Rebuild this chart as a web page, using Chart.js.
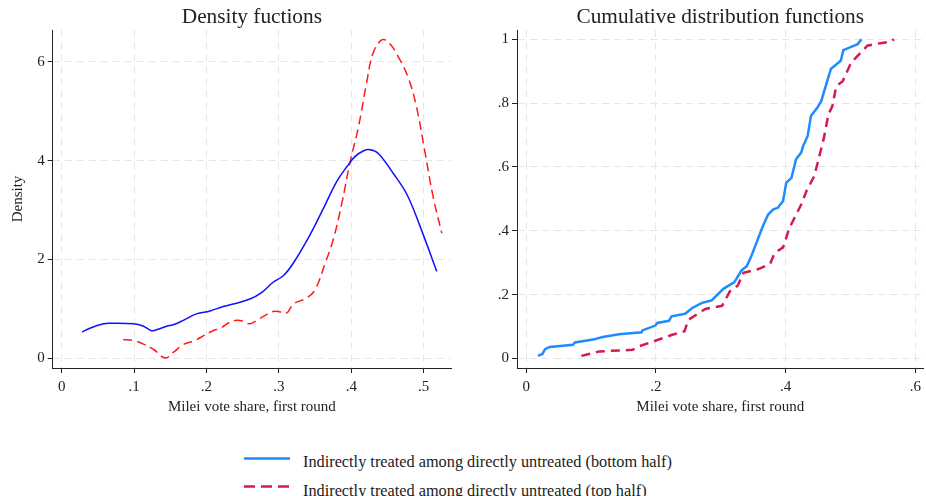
<!DOCTYPE html>
<html>
<head>
<meta charset="utf-8">
<script src="https://cdn.jsdelivr.net/npm/chart.js@4.4.1/dist/chart.umd.min.js"></script>
<style>
  body { margin: 0; background: #fff; width: 926px; height: 496px; overflow: hidden; position: relative; font-family: 'Liberation Serif', 'Times New Roman', serif; }
  #left { position: absolute; left: 0; top: 0; width: 460px; height: 420px; }
  #right { position: absolute; left: 460px; top: 0; width: 466px; height: 420px; }
  .leg { position: absolute; left: 244px; font-size: 16.3px; color: #222; }
  .leg svg { position: absolute; left: 0; top: 0; }
  .leg span { position: absolute; left: 59px; white-space: nowrap; }
</style>
</head>
<body>
<div id="left"><canvas id="densChart"></canvas></div>
<div id="right"><canvas id="cdfChart"></canvas></div>
<div class="leg" style="top:450px"><svg width="48" height="18"><line x1="0" y1="8.5" x2="46" y2="8.5" stroke="#1e8cff" stroke-width="2.5"/></svg><span style="top:2px">Indirectly treated among directly untreated (bottom half)</span></div>
<div class="leg" style="top:478px"><svg width="48" height="18"><line x1="0" y1="8.5" x2="46" y2="8.5" stroke="#d61a4f" stroke-width="2.5" stroke-dasharray="11,6"/></svg><span style="top:3px">Indirectly treated among directly untreated (top half)</span></div>
<script>
// density, bottom half (blue)
const densBottomX = [0.028, 0.039, 0.058, 0.067, 0.099, 0.113, 0.124, 0.131, 0.145, 0.154, 0.168, 0.186, 0.205, 0.223, 0.237, 0.26, 0.276, 0.292, 0.306, 0.32, 0.343, 0.361, 0.38, 0.394, 0.405, 0.417, 0.426, 0.437, 0.458, 0.477, 0.495, 0.518];
const densBottomY = [0.53, 0.61, 0.70, 0.71, 0.70, 0.65, 0.56, 0.58, 0.65, 0.68, 0.77, 0.90, 0.96, 1.05, 1.10, 1.20, 1.33, 1.54, 1.67, 1.93, 2.50, 3.02, 3.58, 3.88, 4.08, 4.20, 4.22, 4.15, 3.74, 3.31, 2.67, 1.76];
// density, top half (red dashed)
const densTopX = [0.085, 0.099, 0.113, 0.127, 0.143, 0.154, 0.168, 0.184, 0.196, 0.209, 0.219, 0.232, 0.242, 0.251, 0.26, 0.274, 0.292, 0.302, 0.311, 0.32, 0.338, 0.35, 0.364, 0.375, 0.387, 0.398, 0.41, 0.421, 0.43, 0.442, 0.451, 0.465, 0.479, 0.49, 0.502, 0.513, 0.525];
const densTopY = [0.38, 0.36, 0.29, 0.18, 0.01, 0.12, 0.28, 0.36, 0.46, 0.56, 0.61, 0.73, 0.77, 0.75, 0.70, 0.81, 0.95, 0.94, 0.92, 1.10, 1.22, 1.39, 1.93, 2.40, 3.14, 3.95, 4.69, 5.56, 6.17, 6.44, 6.40, 6.10, 5.66, 5.09, 4.15, 3.27, 2.53];
// cdf, bottom half (blue)
const cdfBottomX = [0.018, 0.025, 0.029, 0.036, 0.072, 0.075, 0.103, 0.118, 0.143, 0.178, 0.179, 0.199, 0.202, 0.22, 0.224, 0.245, 0.256, 0.271, 0.286, 0.304, 0.321, 0.332, 0.34, 0.347, 0.353, 0.365, 0.373, 0.381, 0.388, 0.396, 0.401, 0.409, 0.416, 0.424, 0.427, 0.434, 0.439, 0.449, 0.455, 0.465, 0.47, 0.485, 0.489, 0.511, 0.517];
const cdfBottomY = [0.008, 0.014, 0.029, 0.036, 0.043, 0.05, 0.059, 0.067, 0.076, 0.082, 0.088, 0.103, 0.111, 0.118, 0.132, 0.14, 0.158, 0.174, 0.182, 0.218, 0.239, 0.276, 0.289, 0.32, 0.352, 0.415, 0.451, 0.467, 0.472, 0.493, 0.551, 0.566, 0.624, 0.645, 0.666, 0.697, 0.76, 0.786, 0.807, 0.875, 0.908, 0.933, 0.966, 0.985, 1.0];
// cdf, top half (red dashed)
const cdfTopX = [0.085, 0.113, 0.164, 0.174, 0.2, 0.225, 0.244, 0.25, 0.276, 0.302, 0.314, 0.326, 0.335, 0.358, 0.376, 0.383, 0.396, 0.405, 0.411, 0.424, 0.432, 0.444, 0.45, 0.459, 0.466, 0.472, 0.478, 0.488, 0.501, 0.511, 0.526, 0.546, 0.562, 0.567];
const cdfTopY = [0.008, 0.022, 0.027, 0.038, 0.056, 0.074, 0.085, 0.121, 0.155, 0.165, 0.21, 0.228, 0.268, 0.28, 0.296, 0.33, 0.348, 0.404, 0.43, 0.482, 0.524, 0.571, 0.618, 0.691, 0.765, 0.79, 0.853, 0.869, 0.927, 0.948, 0.98, 0.988, 0.992, 1.0];

const xTicksL = [0, 0.1, 0.2, 0.3, 0.4, 0.5];
const xLabelsL = ['0', '.1', '.2', '.3', '.4', '.5'];
const yTicksL = [0, 2, 4, 6];
const yLabelsL = ['0', '2', '4', '6'];
const xTicksR = [0, 0.2, 0.4, 0.6];
const xLabelsR = ['0', '.2', '.4', '.6'];
const yTicksR = [0, 0.2, 0.4, 0.6, 0.8, 1];
const yLabelsR = ['0', '.2', '.4', '.6', '.8', '1'];

const serif = 'Liberation Serif';
const textCol = '#222';

function pts(xs, ys) {
  return xs.map((x, i) => ({ x: x, y: ys[i] }));
}

function axis(min, max, ticks, labels, extra, pad) {
  return Object.assign({
    type: 'linear',
    min: min,
    max: max,
    afterBuildTicks: s => { s.ticks = ticks.map(v => ({ value: v })); },
    ticks: {
      callback: (v, i) => labels[i],
      color: textCol,
      font: { family: serif, size: 15 },
      padding: pad,
      autoSkip: false,
      maxRotation: 0
    },
    grid: { color: '#e6e6e6', tickColor: '#222', tickLength: 5, tickBorderDash: [], lineWidth: 1 },
    border: { display: true, color: '#222', width: 1, dash: [7, 5] }
  }, extra);
}

function makeChart(id, title, datasets, xs, ys, yWidth, padRight) {
  const ctx = document.getElementById(id).getContext('2d');
  return new Chart(ctx, {
    type: 'scatter',
    data: { datasets: datasets },
    options: {
      responsive: true,
      maintainAspectRatio: false,
      animation: false,
      layout: { padding: { left: 0, right: padRight, top: 0, bottom: 0 } },
      plugins: {
        legend: { display: false },
        tooltip: { enabled: false },
        title: {
          display: true,
          text: title,
          fullSize: false,
          color: textCol,
          font: { family: serif, size: 21.3, weight: 'normal' },
          padding: { top: 4.5, bottom: 0 }
        }
      },
      scales: { x: xs, y: ys }
    },
    plugins: [{
      id: 'fit',
      beforeInit(chart) {
        chart.options.scales.y.afterFit = s => { s.width = yWidth; };
        chart.options.scales.x.afterFit = s => { s.height = 52; };
      }
    }]
  });
}

makeChart('densChart', 'Density fuctions', [
  {
    data: pts(densBottomX, densBottomY),
    showLine: true, borderColor: '#1010ff', borderWidth: 1.5, pointRadius: 0, tension: 0.4
  },
  {
    data: pts(densTopX, densTopY),
    showLine: true, borderColor: '#ff1a1a', borderWidth: 1.5, borderDash: [9, 5], pointRadius: 0, tension: 0.4
  }
],
  axis(-0.0124, 0.5377, xTicksL, xLabelsL, {
    title: { display: true, text: 'Milei vote share, first round', color: textCol, font: { family: serif, size: 15 }, padding: { top: 0, bottom: 4 } }
  }, 5),
  axis(-0.194, 6.64, yTicksL, yLabelsL, {
    title: { display: true, text: 'Density', color: textCol, font: { family: serif, size: 15 }, padding: { top: 9, bottom: 0 } }
  }, 3),
  52.7, 9);

makeChart('cdfChart', 'Cumulative distribution functions', [
  {
    data: pts(cdfBottomX, cdfBottomY),
    showLine: true, borderColor: '#1e8cff', borderWidth: 2.5, pointRadius: 0, tension: 0
  },
  {
    data: pts(cdfTopX, cdfTopY),
    showLine: true, borderColor: '#d61a4f', borderWidth: 2.5, borderDash: [9, 6], pointRadius: 0, tension: 0
  }
],
  axis(-0.0143, 0.6126, xTicksR, xLabelsR, {
    title: { display: true, text: 'Milei vote share, first round', color: textCol, font: { family: serif, size: 15 }, padding: { top: 0, bottom: 4 } }
  }, 5),
  axis(-0.030, 1.029, yTicksR, yLabelsR, {}, 3),
  57, 0);
</script>
</body>
</html>
